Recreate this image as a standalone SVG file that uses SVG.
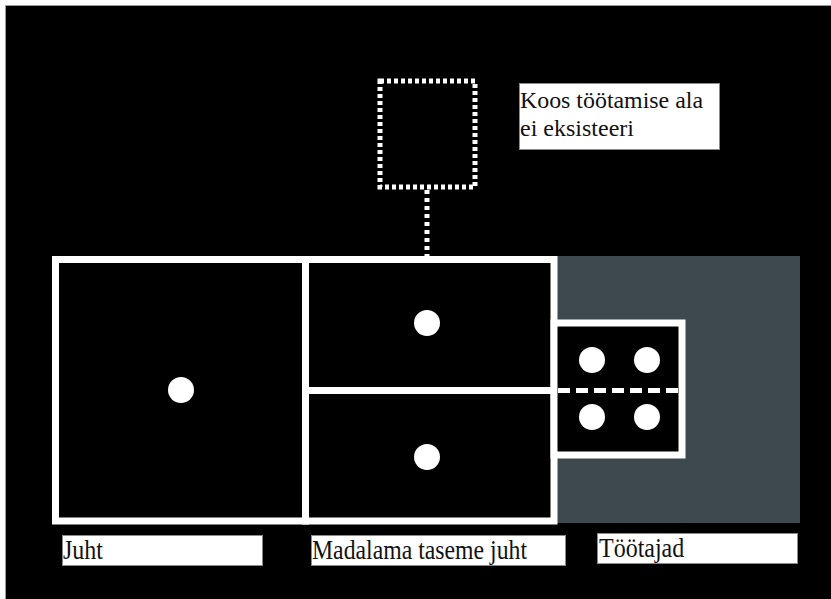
<svg xmlns="http://www.w3.org/2000/svg" width="831" height="599" viewBox="0 0 831 599">
<style>
.frame{fill:none;stroke:#fff;stroke-width:7}
.dot{fill:#fff}
.lbl{fill:#fff;stroke:#8a8a8a;stroke-width:1}
.txt{font-family:"Liberation Serif","Times New Roman",serif;font-size:24px;fill:#111}
.dotted{fill:none;stroke:#fff;stroke-width:5;stroke-dasharray:4 3}
</style>
<rect x="0" y="0" width="831" height="599" fill="#fff"/>
<rect x="5.5" y="5.5" width="830" height="600" fill="#000" stroke="#9a9a9a" stroke-width="1"/>
<g id="workers-area">
<rect x="557" y="256" width="243" height="267" fill="#3e484f"/>
</g>
<g id="juht">
<rect x="55.5" y="259.5" width="250" height="261.5" fill="#000" stroke="#fff" stroke-width="7"/>
<circle class="dot" cx="181" cy="390" r="13"/>
</g>
<g id="madalama-top">
<rect x="305.5" y="259.5" width="248.5" height="131" fill="#000" stroke="#fff" stroke-width="7"/>
<circle class="dot" cx="427" cy="323" r="13"/>
</g>
<g id="madalama-bottom">
<rect x="305.5" y="390.5" width="248.5" height="130.5" fill="#000" stroke="#fff" stroke-width="7"/>
<circle class="dot" cx="427" cy="457" r="13"/>
</g>
<g id="tootajad-box">
<rect x="554" y="323" width="128" height="132" fill="#000" stroke="#fff" stroke-width="7"/>
<line x1="558" y1="390.5" x2="680" y2="390.5" stroke="#fff" stroke-width="5" stroke-dasharray="12 6"/>
<circle class="dot" cx="592" cy="360" r="13"/>
<circle class="dot" cx="647" cy="360" r="13"/>
<circle class="dot" cx="592" cy="417" r="13"/>
<circle class="dot" cx="647" cy="417" r="13"/>
</g>
<g id="koostoo">
<rect class="dotted" x="380" y="81" width="95" height="106"/>
</g>
<g id="connectors">
<line x1="427" y1="190" x2="427" y2="256" stroke="#fff" stroke-width="5" stroke-dasharray="4 4"/>
</g>
<g id="label-koos">
<rect class="lbl" x="519.5" y="83.5" width="200" height="66"/>
<text class="txt" x="520" y="108" textLength="183" lengthAdjust="spacingAndGlyphs">Koos töötamise ala</text>
<text class="txt" x="520" y="136">ei eksisteeri</text>
</g>
<g id="label-juht">
<rect class="lbl" x="62.5" y="535.5" width="200" height="30"/>
<g transform="translate(63,559) scale(1,1.1)"><text class="txt" x="0" y="0">Juht</text></g>
</g>
<g id="label-madalama">
<rect class="lbl" x="311.5" y="535.5" width="254" height="30"/>
<g transform="translate(312,559) scale(1,1.1)"><text class="txt" x="0" y="0" textLength="215" lengthAdjust="spacingAndGlyphs">Madalama taseme juht</text></g>
</g>
<g id="label-tootajad">
<rect class="lbl" x="597.5" y="533.5" width="200" height="30"/>
<g transform="translate(599,557) scale(1,1.1)"><text class="txt" x="0" y="0">Töötajad</text></g>
</g>
</svg>
